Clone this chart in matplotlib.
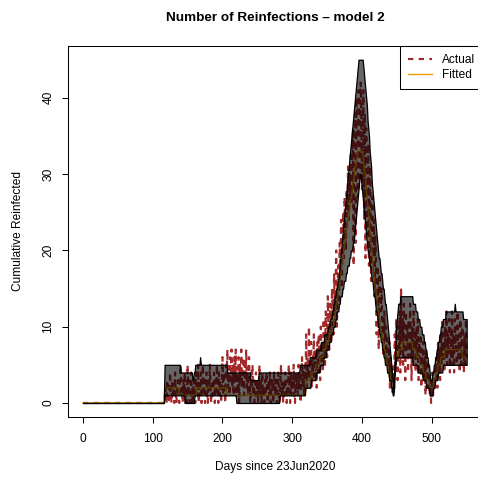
import matplotlib
matplotlib.use("Agg")
import matplotlib.pyplot as plt
from matplotlib.patches import Rectangle
import numpy as np

plt.rcParams['font.family'] = ['Liberation Sans', 'DejaVu Sans']

# band bounds and fitted values as (value, number of days) runs, day 0..550
upper_runs = [(0, 117), (5, 23), (4, 17), (3, 2), (4, 2), (5, 7), (6, 1), (5, 38),
              (4, 33), (3, 12), (4, 59), (5, 14), (6, 9), (7, 7), (8, 5), (9, 5),
              (10, 3), (11, 3), (12, 2), (13, 2), (14, 2), (15, 2), (16, 2)] + \
             [(v, 1) for v in [17, 18, 19, 20, 21, 22, 23, 24, 25, 26, 27, 28, 29, 30,
                               31, 32, 33, 34, 35, 36, 37, 38, 39, 40, 41, 42, 43, 44]] + \
             [(45, 7)] + \
             [(v, 1) for v in [44, 43, 42, 41, 40, 39, 37, 36, 35, 33, 32, 31, 29, 28, 27,
                               26, 25, 24, 23, 22, 21, 20, 19, 19, 18, 17, 17, 16, 15, 15,
                               14, 13, 13, 12, 11, 10, 9, 8, 7, 6, 5, 4, 3, 2,
                               4, 6, 8, 10, 11, 12]] + \
             [(13, 3), (14, 18), (13, 4), (12, 3), (11, 3), (10, 3), (9, 3), (8, 2),
              (7, 2), (6, 2), (5, 2), (4, 1), (3, 3), (4, 2), (5, 2), (6, 2), (7, 2),
              (8, 2), (9, 2), (10, 3), (11, 4), (12, 13), (13, 1), (12, 11), (11, 6)]

lower_runs = [(0, 117), (1, 29), (0, 14), (1, 60), (0, 62), (1, 37), (2, 8), (3, 7),
              (4, 6), (5, 5), (6, 4), (7, 4), (8, 3), (9, 3), (10, 3), (11, 2), (12, 3),
              (13, 2), (14, 3), (15, 2), (16, 3), (17, 2), (18, 3), (19, 2), (20, 3),
              (21, 2)] + \
             [(v, 1) for v in [22, 23, 24, 25, 26, 27, 28, 29]] + [(30, 2)] + \
             [(v, 1) for v in [29, 28, 27, 26, 25, 24, 23, 22, 21]] + \
             [(20, 2), (19, 1), (18, 2), (17, 1), (16, 2), (15, 1), (14, 2), (13, 1),
              (12, 2), (11, 1), (10, 2), (9, 2), (8, 2), (7, 2), (6, 2), (5, 3), (4, 3),
              (3, 3), (2, 2), (1, 2), (2, 1), (4, 1), (5, 1), (6, 24), (5, 7), (4, 7),
              (3, 5), (2, 5), (1, 5), (2, 3), (3, 4), (4, 7), (5, 35)]

fitted_runs = [(0, 117), (2, 21), (1, 25), (2, 43), (1, 114), (3, 7), (4, 7), (5, 6),
               (6, 5), (7, 4), (8, 4), (9, 3), (10, 4)] + \
              [(v, 1) for v in [11, 11, 12, 13, 13, 14, 15, 15, 16, 17, 17, 18, 19, 19,
                                20, 21, 21, 22, 23, 23, 24, 25, 25, 26, 27, 27, 28, 29,
                                29, 30, 31, 31, 32, 32, 33]] + [(33, 7)] + \
              [(v, 1) for v in [32, 31, 30, 30, 28, 27, 26, 25, 24, 23, 22, 21, 20, 19,
                                18, 17, 16, 15, 15, 14, 13, 12, 12, 11, 10, 10, 9, 9, 8,
                                8, 7, 7, 6, 6, 5, 5, 4, 4, 4]] + \
              [(3, 6), (4, 1), (5, 1), (6, 4), (7, 5), (8, 15), (7, 5), (6, 5), (5, 5),
               (4, 4), (3, 5), (2, 6), (3, 3), (4, 3), (5, 4), (6, 6), (7, 25), (6, 7)]

# daily observed reinfections, day 0..550
actual = [0] * 117 + [
    0, 2, 1, 0, 3, 1, 0, 2, 4, 1,
    0, 3, 1, 2, 0, 4, 1, 0, 2, 3,
    1, 0, 3, 5, 1, 2, 0, 3, 1, 4,
    0, 2, 0, 5, 1, 3, 0, 1, 4, 0,
    2, 0, 3, 1, 0, 4, 2, 1, 5, 0,
    3, 1, 4, 0, 2, 5, 1, 3, 0, 2,
    4, 1, 0, 3, 2, 5, 1, 0, 3, 1,
    2, 4, 0, 3, 1, 5, 2, 0, 4, 1,
    3, 0, 2, 6, 1, 4, 2, 0, 5, 3,
    7, 2, 4, 1, 6, 3, 7, 2, 5, 1,
    6, 3, 7, 1, 4, 2, 6, 0, 5, 3,
    7, 2, 4, 6, 1, 5, 3, 7, 2, 4,
    1, 6, 3, 0, 4, 2, 5, 1, 3, 0,
    2, 4, 1, 3, 0, 2, 5, 1, 3, 0,
    4, 1, 2, 0, 3, 1, 4, 2, 0, 3,
    1, 4, 0, 2, 3, 1, 0, 4, 2, 1,
    3, 0, 2, 4, 1, 0, 3, 5, 1, 2,
    0, 3, 1, 4, 2, 0, 3, 1, 5, 2,
    0, 4, 1, 3, 2, 5, 1, 0, 4, 2,
    3, 1, 5, 2, 4, 0, 3, 6, 2, 4,
    1, 5, 3, 9, 2, 6, 4, 10, 3, 5,
    8, 2, 6, 4, 9, 3, 7, 5, 2, 8,
    4, 9, 6, 3, 10, 5, 8, 4, 11, 7,
    5, 12, 8, 6, 14, 9, 7, 13, 10, 8,
    15, 11, 9, 17, 12, 14, 20, 10, 16, 18,
    13, 21, 17, 24, 15, 22, 25, 19, 27, 23,
    20, 28, 25, 31, 24, 30, 27, 33, 26, 32,
    36, 18, 35, 38, 21, 40, 37, 27, 41, 38,
    29, 42, 39, 28, 37, 41, 24, 38, 19, 36,
    30, 22, 34, 18, 28, 31, 16, 25, 27, 20,
    24, 14, 22, 19, 9, 18, 15, 7, 17, 13,
    12, 15, 9, 11, 6, 12, 8, 10, 5, 9,
    7, 4, 8, 2, 6, 3, 5, 1, 4, 2,
    9, 5, 11, 7, 3, 10, 6, 12, 4, 15,
    8, 11, 5, 13, 9, 3, 12, 7, 10, 4,
    11, 6, 13, 8, 3, 10, 5, 12, 7, 9,
    4, 10, 6, 11, 3, 8, 5, 9, 2, 7,
    4, 8, 3, 6, 1, 7, 3, 5, 2, 4,
    1, 3, 0, 2, 4, 1, 3, 2, 5, 3,
    6, 2, 8, 4, 7, 3, 9, 5, 11, 6,
    8, 4, 10, 6, 12, 5, 9, 7, 11, 4,
    10, 5, 12, 6, 9, 4, 11, 7, 10, 5,
    12, 6, 9, 4, 11, 5, 8, 10, 6, 4,
    9, 5, 11, 6]

x_ticks = [0, 100, 200, 300, 400, 500]
y_ticks = [0, 10, 20, 30, 40]


def expand(runs, n):
    vals = np.repeat([r[0] for r in runs], [r[1] for r in runs]).astype(float)
    if len(vals) < n:
        vals = np.concatenate([vals, np.full(n - len(vals), vals[-1])])
    return vals[:n]


days = np.arange(len(actual))
upper = expand(upper_runs, len(days))
lower = expand(lower_runs, len(days))
fitted = expand(fitted_runs, len(days))

W, H = 478, 479
fig = plt.figure(figsize=(W / 100, H / 100), dpi=100)
ax = fig.add_axes([67.6 / W, (H - 416.7) / H, (482 - 67.6) / W, (416.7 - 46) / H])

red = '#A32A2A'
orange = '#E69F00'
ax.plot(days, actual, color=red, lw=1.6, ls=(0, (2.4, 2.4)), zorder=1, label='Actual')
ax.plot(days, fitted, color=orange, lw=1.0, zorder=2, label='Fitted')
ax.fill_between(days, lower, upper, facecolor=(0, 0, 0, 0.6), edgecolor='black',
                lw=0.9, zorder=3)

ax.set_xlim(-22, 572)
ax.set_ylim(-1.8, 46.8)
ax.set_xticks(x_ticks)
ax.set_yticks(y_ticks)
ax.tick_params(direction='out', length=4.5, width=0.75, labelsize=8.6, pad=7.5,
               colors='black')
ax.tick_params(axis='y', pad=5)
for lab in ax.get_yticklabels():
    lab.set_rotation(90)
    lab.set_va('center')
for s in ax.spines.values():
    s.set_linewidth(0.75)
    s.set_color('black')

fig.text(275 / W, 1 - 18 / H, 'Number of Reinfections \u2013 model 2', ha='center',
         va='center', fontsize=9.7, fontweight='bold')
fig.text(275 / W, 1 - 467 / H, 'Days since 23Jun2020', ha='center', va='center',
         fontsize=8.6)
fig.text(18 / W, 1 - 231 / H, 'Cumulative Reinfected', ha='center', va='center',
         rotation=90, fontsize=8.6)

# legend box runs past the right edge of the picture, so draw its frame open
lx0, lx1 = 400 / W, 477.5 / W
ly0, ly1 = 1 - 88.5 / H, 1 - 45.5 / H
ax.add_patch(Rectangle((lx0, ly0), lx1 - lx0, ly1 - ly0, transform=fig.transFigure,
                       facecolor='white', edgecolor='none', clip_on=False, zorder=5))
ax.plot([lx1, lx0, lx0, lx1], [ly1, ly1, ly0, ly0], color='black', lw=0.75,
        solid_capstyle='butt', transform=fig.transFigure, clip_on=False, zorder=5.5)
leg = ax.legend(loc='upper left', bbox_to_anchor=(400 / W, 1 - 45.5 / H),
                bbox_transform=fig.transFigure, borderaxespad=0, fontsize=8.6,
                handlelength=2.0, handletextpad=0.85, borderpad=0.7,
                labelspacing=0.25, frameon=False)
leg.set_zorder(6)

fig.savefig('out.png', dpi=100)
